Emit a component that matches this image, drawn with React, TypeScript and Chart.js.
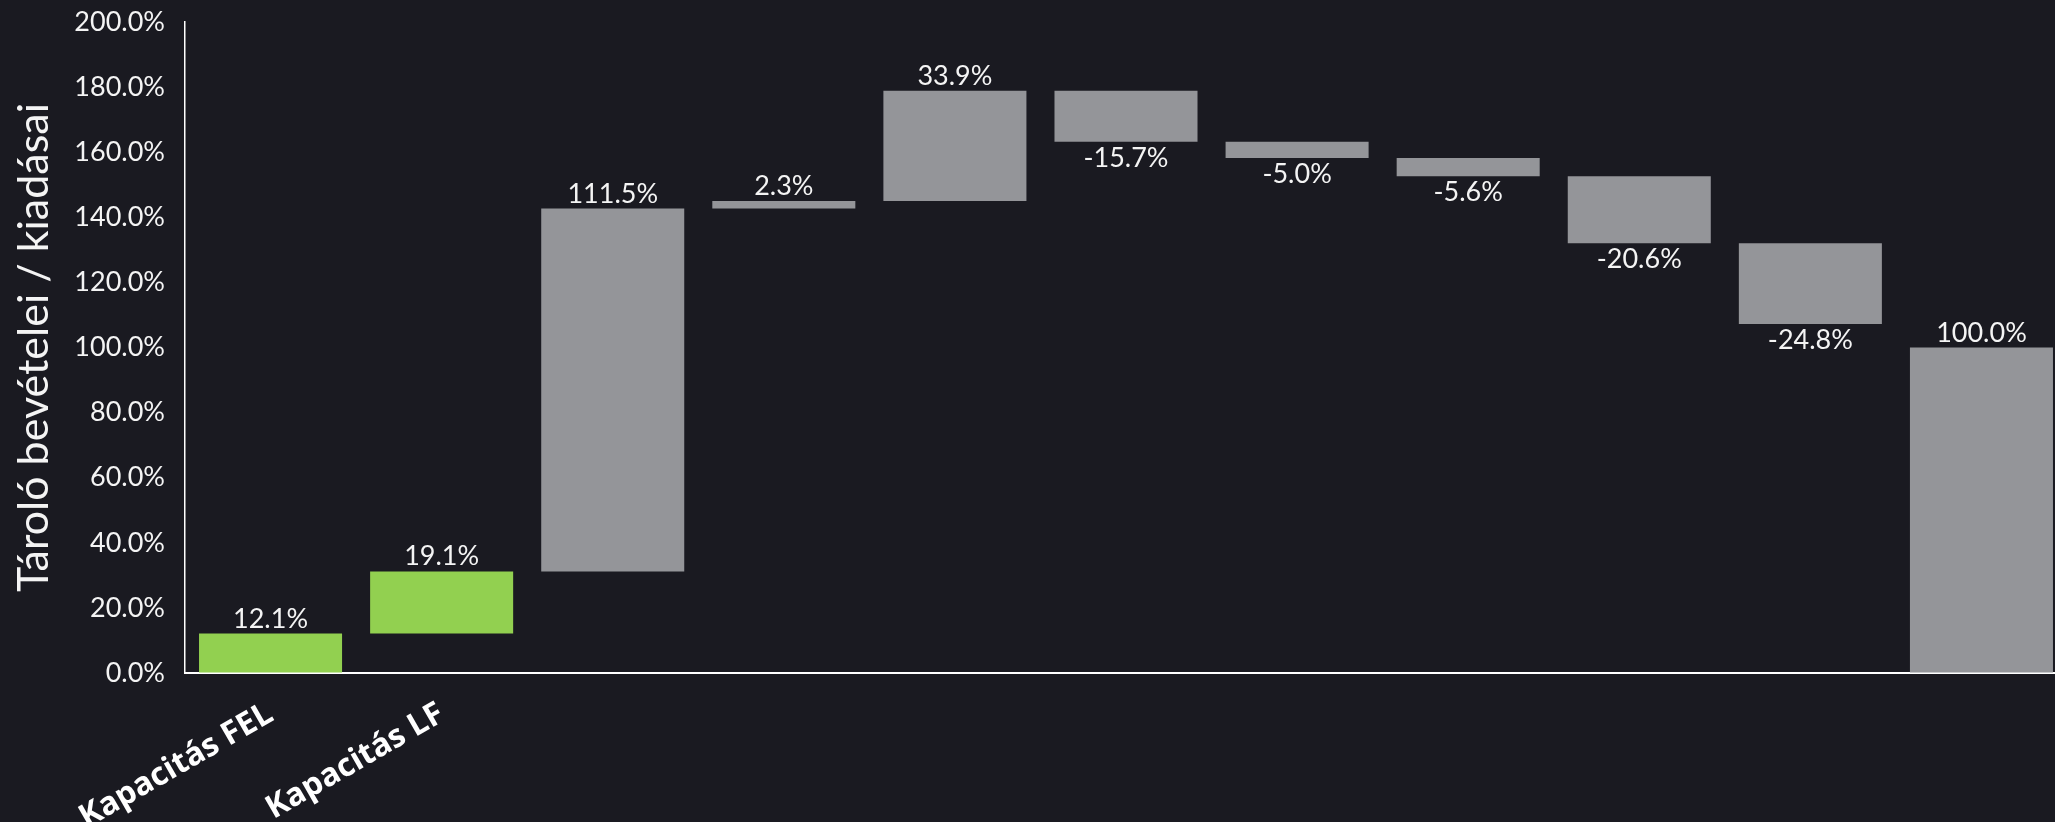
import React, { useEffect, useRef } from "react";
import { Chart, registerables } from "chart.js";

Chart.register(...registerables);

const categories: string[] = [
  "Kapacitás FEL",
  "Kapacitás LF",
  "",
  "",
  "",
  "",
  "",
  "",
  "",
  "",
  "",
];

const deltas: number[] = [12.1, 19.1, 111.5, 2.3, 33.9, -15.7, -5.0, -5.6, -20.6, -24.8];
const totalValue = 100.0;
const labelValues: number[] = [...deltas, totalValue];
const barColors: string[] = [
  "#92d050",
  "#92d050",
  "#949599",
  "#949599",
  "#949599",
  "#949599",
  "#949599",
  "#949599",
  "#949599",
  "#949599",
  "#949599",
];

const yTicks: number[] = [0, 20, 40, 60, 80, 100, 120, 140, 160, 180, 200];

const BG = "#1a1a21";
const TEXT = "#f4f4f4";

function buildRanges(): [number, number][] {
  const out: [number, number][] = [];
  let cum = 0;
  for (const d of deltas) {
    out.push([cum, cum + d]);
    cum += d;
  }
  out.push([0, totalValue]);
  return out;
}

const valueLabelPlugin = {
  id: "valueLabels",
  afterDatasetsDraw(chart: any) {
    const ctx = chart.ctx;
    const meta = chart.getDatasetMeta(0);
    ctx.save();
    ctx.font = "27px Lato";
    ctx.fillStyle = TEXT;
    ctx.textAlign = "center";
    ctx.textBaseline = "alphabetic";
    meta.data.forEach((el: any, i: number) => {
      const v = labelValues[i];
      const top = Math.min(el.y, el.base);
      const bottom = Math.max(el.y, el.base);
      const txt = v.toFixed(1) + "%";
      if (v >= 0) {
        ctx.fillText(txt, el.x, top - 6);
      } else {
        ctx.fillText(txt, el.x, bottom + 25);
      }
    });
    ctx.restore();
  },
};

export default function App() {
  const canvasRef = useRef<HTMLCanvasElement | null>(null);

  useEffect(() => {
    if (!canvasRef.current) return;
    const ranges = buildRanges();
    const chart = new Chart(canvasRef.current, {
      type: "bar",
      data: {
        labels: categories,
        datasets: [
          {
            data: ranges as any,
            backgroundColor: barColors,
            borderWidth: 0,
            borderSkipped: false,
            barPercentage: 0.836,
            categoryPercentage: 1.0,
          },
        ],
      },
      options: {
        animation: false,
        responsive: true,
        maintainAspectRatio: false,
        layout: { padding: { top: 22, left: 0, right: 0, bottom: 0 } },
        plugins: {
          legend: { display: false },
          tooltip: { enabled: false },
        },
        scales: {
          x: {
            grid: { display: false, drawTicks: false },
            border: { display: true, color: "#ffffff", width: 2 },
            ticks: {
              color: "#ffffff",
              font: { family: "'Open Sans'", size: 32, weight: "bold" },
              minRotation: 30,
              maxRotation: 30,
              autoSkip: false,
              padding: 22,
            },
            afterFit(scale: any) {
              scale.height = 149;
            },
          },
          y: {
            min: 0,
            max: 200,
            afterBuildTicks(scale: any) {
              scale.ticks = yTicks.map((v) => ({ value: v }));
            },
            grid: {
              display: true,
              drawOnChartArea: false,
              drawTicks: true,
              tickLength: 17,
              color: "rgba(0,0,0,0)",
              tickColor: "rgba(0,0,0,0)",
            },
            border: { display: true, color: "#ffffff", width: 1.5 },
            ticks: {
              color: TEXT,
              font: { family: "Lato", size: 27 },
              padding: 3,
              callback: (v: any) => Number(v).toFixed(1) + "%",
            },
            title: {
              display: true,
              text: "Tároló bevételei / kiadásai",
              color: TEXT,
              font: { family: "Lato", size: 43 },
              padding: { top: 8, bottom: 0 },
            },
            afterFit(scale: any) {
              scale.width = 185;
            },
          },
        },
      },
      plugins: [valueLabelPlugin],
    });
    return () => chart.destroy();
  }, []);

  return (
    <div
      style={{
        position: "fixed",
        left: 0,
        top: 0,
        width: "100vw",
        height: "100vh",
        overflow: "hidden",
        background: BG,
      }}
    >
      <div style={{ position: "absolute", left: 0, top: 0, width: 2067, height: 822 }}>
        <canvas ref={canvasRef} />
      </div>
    </div>
  );
}
